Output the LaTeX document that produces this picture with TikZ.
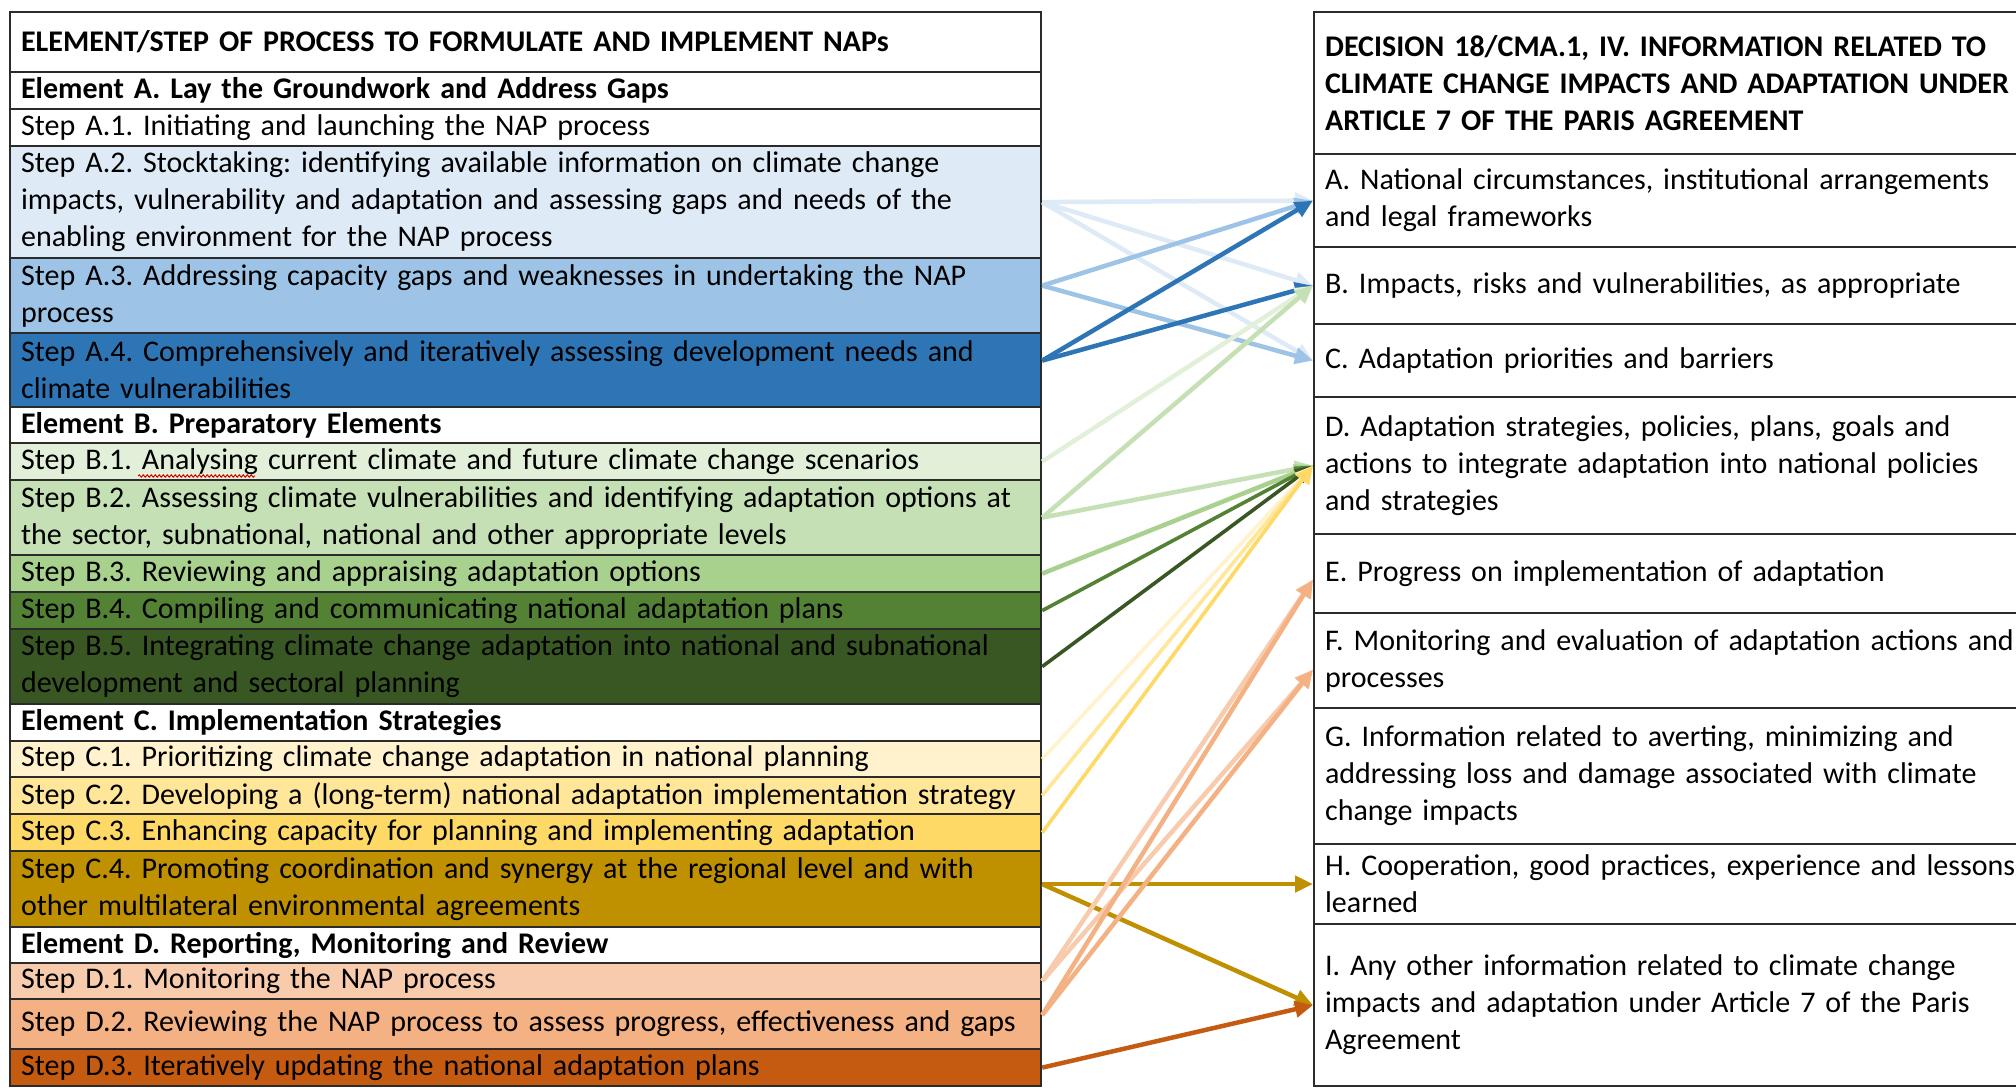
\documentclass[tikz,border=0pt]{standalone}
\usepackage{fontspec}
\setmainfont{Carlito}
\frenchspacing
\usetikzlibrary{arrows.meta,calc,decorations.pathmorphing}
\newcommand\myCellFont{\fontsize{30}{37}\selectfont\hyphenpenalty=10000 \exhyphenpenalty=10000 }
\definecolor{bordercol}{HTML}{2B2B2B}
\definecolor{cAb}{HTML}{DEEBF7}
\definecolor{cAc}{HTML}{9DC3E6}
\definecolor{cAd}{HTML}{2E75B6}
\definecolor{cBa}{HTML}{E2F0D9}
\definecolor{cBb}{HTML}{C5E0B4}
\definecolor{cBc}{HTML}{A9D18E}
\definecolor{cBd}{HTML}{548235}
\definecolor{cBe}{HTML}{385723}
\definecolor{cCa}{HTML}{FFF2CC}
\definecolor{cCb}{HTML}{FFE699}
\definecolor{cCc}{HTML}{FFD966}
\definecolor{cCd}{HTML}{BF9000}
\definecolor{cDa}{HTML}{F8CBAD}
\definecolor{cDb}{HTML}{F4B183}
\definecolor{cDc}{HTML}{C55A11}
\begin{document}
\begin{tikzpicture}[x=1pt,y=-1pt,
  cell/.style={draw=bordercol, line width=2.2pt, anchor=north west, inner xsep=11pt, inner ysep=0pt,
    align=left, font=\myCellFont, text=black},
  lcell/.style={cell, minimum width=1031pt, text width=1009pt},
  rcell/.style={cell, minimum width=800pt, text width=778pt},
  conn/.style={line width=4.5pt, -{Triangle[length=18pt,width=16pt]}},
  thin conn/.style={conn, line width=3.6pt}]
\useasboundingbox[fill=white] (0,0) rectangle (2016,1087);
% left table
\node[lcell, minimum height=60pt] (hdr) at (9,11) {\bfseries ELEMENT/STEP OF PROCESS TO FORMULATE AND IMPLEMENT NAPs};
\node[lcell, minimum height=37pt] (ea) at (9,71) {\bfseries Element A. Lay the Groundwork and Address Gaps};
\node[lcell, minimum height=37pt] (a1) at (9,108) {Step A.1. Initiating and launching the NAP process};
\node[lcell, minimum height=112pt, fill=cAb] (a2) at (9,145) {Step A.2. Stocktaking: identifying available information on climate change\\impacts, vulnerability and adaptation and assessing gaps and needs of the\\enabling environment for the NAP process};
\node[lcell, minimum height=75pt, fill=cAc] (a3) at (9,257) {Step A.3. Addressing capacity gaps and weaknesses in undertaking the NAP\\process};
\node[lcell, minimum height=74pt, fill=cAd] (a4) at (9,332) {Step A.4. Comprehensively and iteratively assessing development needs and\\climate vulnerabilities};
\node[lcell, minimum height=36pt] (eb) at (9,406) {\bfseries Element B. Preparatory Elements};
\node[lcell, minimum height=37pt, fill=cBa] (b1) at (9,442) {Step B.1. Analysing current climate and future climate change scenarios};
\node[lcell, minimum height=75pt, fill=cBb] (b2) at (9,479) {Step B.2. Assessing climate vulnerabilities and identifying adaptation options at\\the sector, subnational, national and other appropriate levels};
\node[lcell, minimum height=37pt, fill=cBc] (b3) at (9,554) {Step B.3. Reviewing and appraising adaptation options};
\node[lcell, minimum height=37pt, fill=cBd] (b4) at (9,591) {Step B.4. Compiling and communicating national adaptation plans};
\node[lcell, minimum height=75pt, fill=cBe] (b5) at (9,628) {Step B.5. Integrating climate change adaptation into national and subnational\\development and sectoral planning};
\node[lcell, minimum height=37pt] (ec) at (9,703) {\bfseries Element C. Implementation Strategies};
\node[lcell, minimum height=36pt, fill=cCa] (c1) at (9,740) {Step C.1. Prioritizing climate change adaptation in national planning};
\node[lcell, minimum height=37pt, fill=cCb] (c2) at (9,776) {Step C.2. Developing a (long-term) national adaptation implementation strategy};
\node[lcell, minimum height=37pt, fill=cCc] (c3) at (9,813) {Step C.3. Enhancing capacity for planning and implementing adaptation};
\node[lcell, minimum height=76pt, fill=cCd] (c4) at (9,850) {Step C.4. Promoting coordination and synergy at the regional level and with\\other multilateral environmental agreements};
\node[lcell, minimum height=36pt] (ed) at (9,926) {\bfseries Element D. Reporting, Monitoring and Review};
\node[lcell, minimum height=36pt, fill=cDa] (d1) at (9,962) {Step D.1. Monitoring the NAP process};
\node[lcell, minimum height=50pt, fill=cDb] (d2) at (9,998) {Step D.2. Reviewing the NAP process to assess progress, effectiveness and gaps};
\node[lcell, minimum height=37pt, fill=cDc] (d3) at (9,1048) {Step D.3. Iteratively updating the national adaptation plans};
% spell-check mark under "Analysing"
\draw[red!85!black, line width=1pt, decorate, decoration={snake, amplitude=1.2pt, segment length=4pt}] (138,476) -- (255,476);
% right table
\node[rcell, minimum height=142pt] (rhdr) at (1313,11) {\bfseries DECISION 18/CMA.1, IV. INFORMATION RELATED TO\\\bfseries CLIMATE CHANGE IMPACTS AND ADAPTATION UNDER\\\bfseries ARTICLE 7 OF THE PARIS AGREEMENT};
\node[rcell, minimum height=93pt] (ra) at (1313,153) {A. National circumstances, institutional arrangements\\and legal frameworks};
\node[rcell, minimum height=77pt] (rb) at (1313,246) {B. Impacts, risks and vulnerabilities, as appropriate};
\node[rcell, minimum height=73pt] (rc) at (1313,323) {C. Adaptation priorities and barriers};
\node[rcell, minimum height=137pt] (rd) at (1313,396) {D. Adaptation strategies, policies, plans, goals and\\actions to integrate adaptation into national policies\\and strategies};
\node[rcell, minimum height=79pt] (re) at (1313,533) {E. Progress on implementation of adaptation};
\node[rcell, minimum height=95pt] (rf) at (1313,612) {F. Monitoring and evaluation of adaptation actions and\\processes};
\node[rcell, minimum height=136pt] (rg) at (1313,707) {G. Information related to averting, minimizing and\\addressing loss and damage associated with climate\\change impacts};
\node[rcell, minimum height=80pt] (rh) at (1313,843) {H. Cooperation, good practices, experience and lessons\\learned};
\node[rcell, minimum height=162pt] (ri) at (1313,923) {I. Any other information related to climate change\\impacts and adaptation under Article 7 of the Paris\\Agreement};
% connectors
\draw[conn, cAb] (a2.east) -- (ra.west);
\draw[conn, cAb] (a2.east) -- (rb.west);
\draw[conn, cAb] (a2.east) -- (rc.west);
\draw[conn, cAc] (a3.east |- rb.west) -- (ra.west);
\draw[conn, cAc] (a3.east |- rb.west) -- (rc.west);
\draw[conn, cAd] (a4.east |- rc.west) -- (ra.west);
\draw[conn, cAd] (a4.east |- rc.west) -- (rb.west);
\draw[conn, cBa] (b1.east) -- (rb.west);
\draw[conn, cBb] (b2.east) -- (rb.west);
\draw[conn, cBb] (b2.east) -- (rd.west);
\draw[conn, cBc] (b3.east) -- (rd.west);
\draw[thin conn, cBd] (b4.east) -- (rd.west);
\draw[thin conn, cBe] (b5.east) -- (rd.west);
\draw[thin conn, cCa] (c1.east) -- (rd.west);
\draw[thin conn, cCb] (c2.east) -- (rd.west);
\draw[thin conn, cCc] (c3.east) -- (rd.west);
\draw[conn, cCd] (c4.east |- rh.west) -- (rh.west);
\draw[conn, cCd] (c4.east |- rh.west) -- (ri.west);
\draw[conn, cDa] (d1.east) -- ($(re.west)+(0,6)$);
\draw[conn, cDa] (d1.east) -- ($(rf.west)+(0,9)$);
\draw[conn, cDb] ($(d2.east)+(0,-9)$) -- ($(re.west)+(0,6)$);
\draw[conn, cDb] ($(d2.east)+(0,-9)$) -- ($(rf.west)+(0,9)$);
\draw[conn, cDc] (d3.east) -- (ri.west);
\end{tikzpicture}
\end{document}
